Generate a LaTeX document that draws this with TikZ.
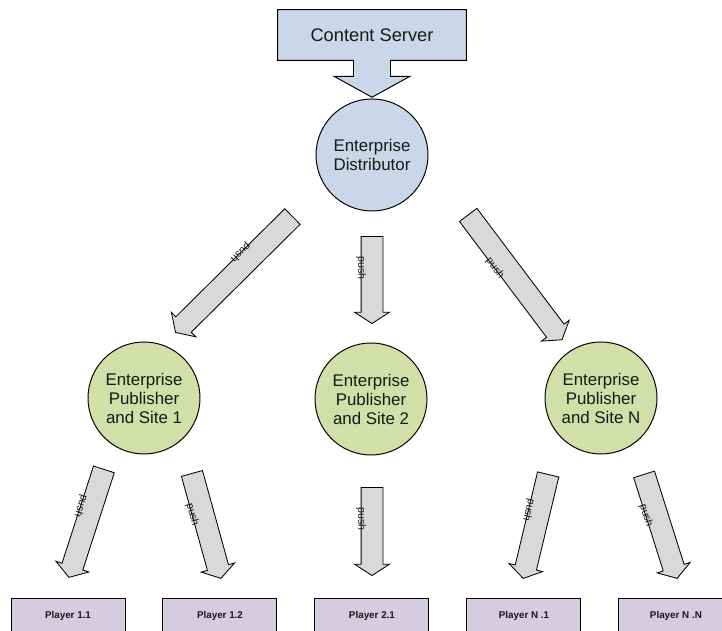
\documentclass[tikz,border=0pt]{standalone}
\usepackage{fontspec}
\setmainfont{Liberation Sans}
\usepackage{xcolor}
\usetikzlibrary{calc, positioning, shapes.arrows, backgrounds}
\definecolor{srvblue}{HTML}{C9D7E8}
\definecolor{pubgreen}{HTML}{D3DFA9}
\definecolor{plylilac}{HTML}{D5CCE0}
\definecolor{pushgray}{HTML}{D9D9D9}
% block arrow from tail to tip, with its label
\newcommand{\pusharrow}[3]{%
  \path let \p1=($(#3)-(#2)$), \n1={veclen(\x1,\y1)}, \n2={atan2(\y1,\x1)} in
    node[push, minimum height=\n1, rotate=\n2] (#1) at ($(#2)!0.5!(#3)$) {}
    node[pushlbl, rotate=\n2] (#1l) at ($(#2)!0.4!(#3)!0.27cm!-90:(#3)$) {push};
}

\begin{document}
\begin{tikzpicture}[
    every node/.style={text=black!90},
    srv/.style={minimum width=4.7cm, minimum height=1.25cm, inner sep=0pt,
                font=\fontsize{13}{15}\selectfont},
    hub/.style={circle, draw, line width=0.7pt, minimum size=2.8cm, inner sep=0pt,
                align=center, font=\fontsize{12}{13.5}\selectfont},
    player/.style={draw, line width=0.7pt, fill=plylilac, minimum width=2.85cm,
                   minimum height=0.9cm, font=\fontsize{7}{8}\selectfont\bfseries},
    push/.style={single arrow, draw, line width=0.6pt, fill=pushgray,
                 inner xsep=0pt, inner ysep=0.2625cm,
                 minimum width=0.85cm, single arrow head extend=0.16cm,
                 single arrow tip angle=114},
    pushlbl/.style={inner sep=0pt, font=\fontsize{7.5}{8}\selectfont},
]
\clip (0,0) rectangle (18.05,15.775);
% the content server with its arrow
\node[srv] (CS) at (9.3,14.9) {Content Server};
\begin{scope}[on background layer]
  \draw[line width=0.7pt, fill=srvblue]
    (CS.south west) -- (CS.north west) -- (CS.north east) -- (CS.south east)
    -- ([xshift=0.4625cm]CS.south) -- ++(0,-0.4) -- ++(0.4875,0)
    -- ([yshift=-0.925cm]CS.south)
    -- ([xshift=-0.95cm, yshift=-0.4cm]CS.south) -- ++(0.4875,0) -- ++(0,0.4)
    -- cycle;
\end{scope}
% distributor and the publisher sites
\node[hub, fill=srvblue] (D) at (9.3,11.9) {Enterprise\\Distributor};
\node[hub, fill=pubgreen] (S1) at (3.6,5.825) {Enterprise\\Publisher\\and Site 1};
\node[hub, fill=pubgreen] (S2) at (9.275,5.8) {Enterprise\\Publisher\\and Site 2};
\node[hub, fill=pubgreen] (SN) at (15.025,5.825) {Enterprise\\Publisher\\and Site N};
% the players
\node[player] (P11) at (1.7,0.375) {Player 1.1};
\node[player, right=0.925cm of P11] (P12) {Player 1.2};
\node[player, right=0.925cm of P12] (P21) {Player 2.1};
\node[player, right=0.925cm of P21] (PN1) {Player N .1};
\node[player, right=0.925cm of PN1] (PNN) {Player N .N};
% arrow ends
\coordinate (d1a) at (7.375,10.425);  \coordinate (d1b) at (4.45,7.525);
\coordinate (d2a) at (9.3,9.95);      \coordinate (d2b) at (9.3,7.775);
\coordinate (dNa) at (11.65,10.475);  \coordinate (dNb) at (14.0,7.35);
\coordinate (s11a) at (2.625,4.125);  \coordinate (s11b) at (1.75,1.425);
\coordinate (s12a) at (4.775,4.025);  \coordinate (s12b) at (5.5,1.4);
\coordinate (s21a) at (9.3,3.675);    \coordinate (s21b) at (9.3,1.475);
\coordinate (sN1a) at (13.725,4.0);   \coordinate (sN1b) at (13.1,1.4);
\coordinate (sNNa) at (16.075,4.0);   \coordinate (sNNb) at (16.9,1.4);
% push arrows
\pusharrow{a1}{d1a}{d1b}
\pusharrow{a2}{d2a}{d2b}
\pusharrow{aN}{dNa}{dNb}
\pusharrow{b11}{s11a}{s11b}
\pusharrow{b12}{s12a}{s12b}
\pusharrow{b21}{s21a}{s21b}
\pusharrow{bN1}{sN1a}{sN1b}
\pusharrow{bNN}{sNNa}{sNNb}
\end{tikzpicture}
\end{document}
